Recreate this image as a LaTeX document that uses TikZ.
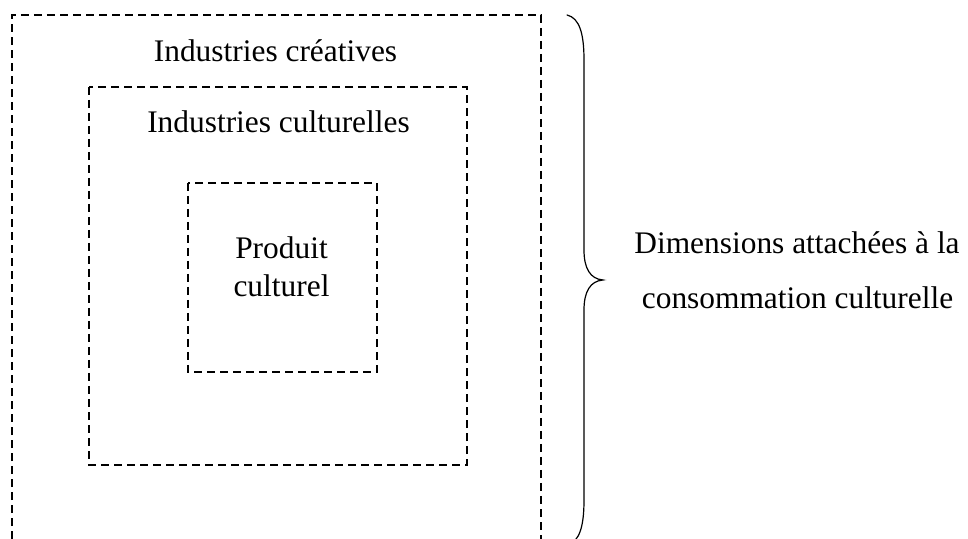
\documentclass[tikz,border=0pt]{standalone}
\usepackage{fontspec}
\setmainfont{Liberation Serif}
\usepackage{tikz}
\usetikzlibrary{positioning}

\tikzset{
  dashbox/.style={line width=0.8pt,dash pattern=on 4pt off 2.5pt},
  lbl/.style={anchor=base,inner sep=0pt,font=\fontsize{15.7}{19}\selectfont},
  bracket/.style={line width=0.6pt,line cap=round}
}

\begin{document}
\begin{tikzpicture}[x=0.5pt,y=-0.5pt]
\useasboundingbox (0,0) rectangle (968,539);
% the three nested boxes
\draw [dashbox] (12,539) -- (12,15) -- (541,15) -- (541,539) ;
\draw [dashbox] (89,87) rectangle (467,465) ;
\draw [dashbox] (188,183) rectangle (377,372) ;
% labels of the boxes
\node[lbl] (creatives) at (275.5,62) {Industries créatives};
\node[lbl] (culturelles) at (278.5,133) {Industries culturelles};
\node[lbl] (produit) at (281.5,259) {Produit};
\node[lbl] (culturel) at (281.5,297) {culturel};
% the brace
\coordinate (btop) at (567,15);
\coordinate (btip) at (603,280);
\coordinate (bbot) at (567,545);
\draw [bracket] (btop) .. controls (580,18) and (584,35) .. (584,60) -- (584,250)
  .. controls (584,268) and (590,279) .. (btip)
  .. controls (590,281) and (584,292) .. (584,310) -- (584,500)
  .. controls (584,525) and (580,542) .. (bbot);
\node[lbl] (dimensions) at (797,254) {Dimensions attachées à la};
\node[lbl] (consommation) at (797.5,309) {consommation culturelle};
\end{tikzpicture}
\end{document}
